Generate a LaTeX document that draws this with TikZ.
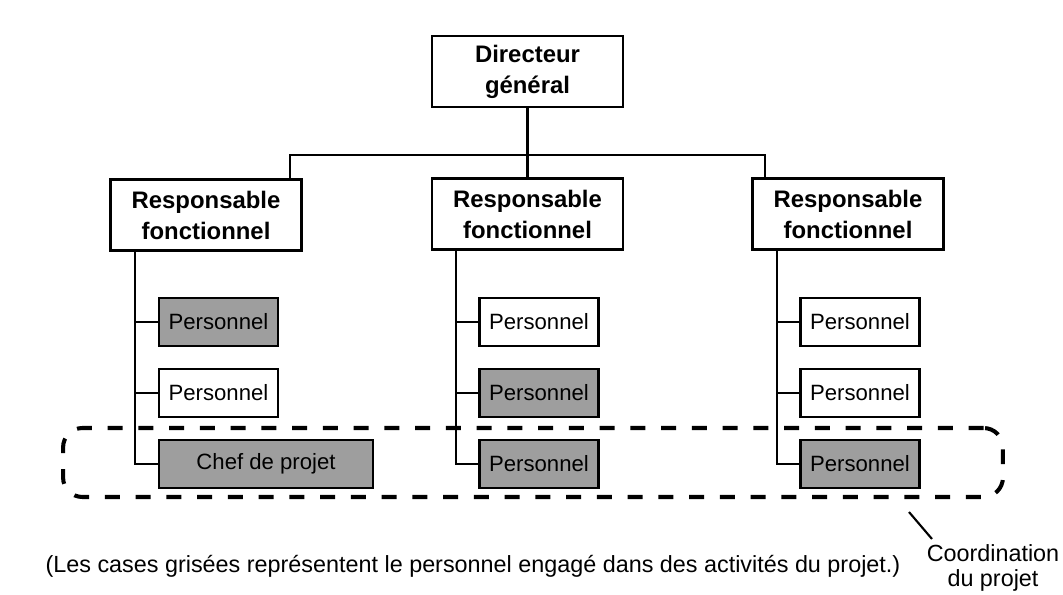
\documentclass[tikz,border=0pt]{standalone}
\usepackage{fontspec}
\setmainfont{Liberation Sans}
\usepackage{tikz}
\usetikzlibrary{calc, positioning}

\begin{document}
\begin{tikzpicture}[
  x=0.02cm, y=-0.02cm,
  chief/.style={draw, line width=1.3pt, fill=white, minimum width=3.82cm,
                minimum height=1.42cm, align=center, inner sep=2pt,
                font=\bfseries\fontsize{13.6}{17.6}\selectfont},
  staff/.style={draw, line width=1.3pt, fill=white, minimum width=2.38cm,
                minimum height=0.96cm, inner sep=2pt,
                font=\fontsize{12.6}{15}\selectfont},
  engaged/.style={staff, fill=black!38},
  link/.style={line width=1.2pt},
  zonebox/.style={draw, line width=2.3pt, dash pattern=on 8.5pt off 9pt,
                  rounded corners=11pt, minimum width=18.8cm, minimum height=1.38cm},
  note/.style={font=\fontsize{13.3}{14.2}\selectfont, align=center},
]
\useasboundingbox (0,0) rectangle (1063,595);

\node[chief] (dg) at (527.5,71.5) {Directeur\\général};

\node[chief] (r1) at (206,215) {Responsable\\fonctionnel};
\node[chief] (r2) at (527.5,214) {Responsable\\fonctionnel};
\node[chief] (r3) at (848,214) {Responsable\\fonctionnel};

\node[engaged] (p11) at (218.5,322) {Personnel};
\node[staff] (p12) at (218.5,393) {Personnel};
\node[engaged, minimum width=4.28cm] (p13) at (266,464) {Chef de projet};

\node[staff] (p21) at (539,322) {Personnel};
\node[engaged] (p22) at (539,393) {Personnel};
\node[engaged] (p23) at (539,464) {Personnel};

\node[staff] (p31) at (860,322) {Personnel};
\node[staff] (p32) at (860,393) {Personnel};
\node[engaged] (p33) at (860,464) {Personnel};

\coordinate (busL) at (290,155);
\coordinate (busR) at (765,155);
\coordinate (t1) at (135,0);
\coordinate (t2) at (456,0);
\coordinate (t3) at (777,0);

\draw[link] (dg.south) -- (r2.north);
\draw[link] (r1.north -| busL) |- (busR) -- (r3.north -| busR);

\draw[link] (r1.south -| t1) |- (p13.west);
\draw[link] (p11.west -| t1) -- (p11.west);
\draw[link] (p12.west -| t1) -- (p12.west);

\draw[link] (r2.south -| t2) |- (p23.west);
\draw[link] (p21.west -| t2) -- (p21.west);
\draw[link] (p22.west -| t2) -- (p22.west);

\draw[link] (r3.south -| t3) |- (p33.west);
\draw[link] (p31.west -| t3) -- (p31.west);
\draw[link] (p32.west -| t3) -- (p32.west);

\node[zonebox] (zone) at (533,462.5) {};

\node[note] (caption) at (473,566) {(Les cases grisées représentent le personnel engagé dans des activités du projet.)};
\node[note] (coordlbl) at (993,568) {Coordination\\du projet};

\coordinate (leadA) at (909,512);
\coordinate (leadB) at (932,539);
\draw[link] (leadA) -- (leadB);
\end{tikzpicture}
\end{document}
